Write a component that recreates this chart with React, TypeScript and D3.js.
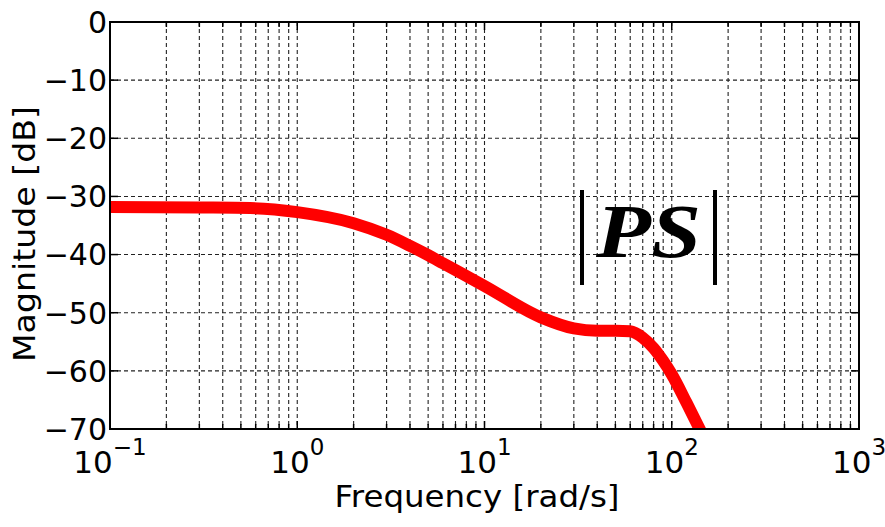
import React from "react";
import * as d3 from "d3";

const freq = [0.1, 0.3, 0.56, 1, 2, 3, 4, 5, 6, 10, 20, 30, 40, 50, 60, 70, 80, 90, 100, 120, 145];
const magDb = [-31.8, -31.9, -32.0, -32.7, -34.6, -36.6, -38.5, -40.1, -41.5, -45.4, -50.8, -52.7, -53.1, -53.1, -53.2, -54.3, -56.1, -58.3, -60.6, -65.5, -70.8];
const yTicks = [0, -10, -20, -30, -40, -50, -60, -70];
const xDecades = [-1, 0, 1, 2, 3];
const xLabel = "Frequency [rad/s]";
const yLabel = "Magnitude [dB]";

const W = 885, H = 527;
const L = 110, R = 859, T = 22, B = 429;

export default function App() {
  const x = d3.scaleLog().domain([0.1, 1000]).range([L, R]);
  const y = d3.scaleLinear().domain([-70, 0]).range([B, T]);
  const minors: number[] = [];
  for (let d = -1; d < 3; d++) for (let k = 2; k <= 9; k++) minors.push(k * Math.pow(10, d));
  const majors = xDecades.map((d) => Math.pow(10, d));
  const line = d3.line<number>().x((_, i) => x(freq[i])).y((v) => y(v)).curve(d3.curveMonotoneX);
  const font = "'DejaVu Sans', 'Liberation Sans', sans-serif";
  const grid = { stroke: "#222", strokeWidth: 1.1, strokeDasharray: "4,3" };
  return (
    <svg width={W} height={H} style={{ position: "absolute", left: 0, top: 0, background: "#fff" }}>
      <defs>
        <clipPath id="pa"><rect x={L} y={T} width={R - L} height={B - T} /></clipPath>
      </defs>
      {[...minors, ...majors.slice(1, -1)].map((v, i) => (
        <line key={"gx" + i} x1={x(v)} x2={x(v)} y1={T} y2={B} {...grid} />
      ))}
      {yTicks.slice(1, -1).map((v) => (
        <line key={"gy" + v} x1={L} x2={R} y1={y(v)} y2={y(v)} {...grid} />
      ))}
      {minors.map((v, i) => (
        <g key={"mt" + i} stroke="#000" strokeWidth={1.5}>
          <line x1={x(v)} x2={x(v)} y1={B} y2={B - 5} />
          <line x1={x(v)} x2={x(v)} y1={T} y2={T + 5} />
        </g>
      ))}
      {majors.map((v, i) => (
        <g key={"Mt" + i} stroke="#000" strokeWidth={1.5}>
          <line x1={x(v)} x2={x(v)} y1={B} y2={B - 8} />
          <line x1={x(v)} x2={x(v)} y1={T} y2={T + 8} />
        </g>
      ))}
      {yTicks.map((v) => (
        <g key={"yt" + v} stroke="#000" strokeWidth={1.5}>
          <line x1={L} x2={L + 8} y1={y(v)} y2={y(v)} />
          <line x1={R} x2={R - 8} y1={y(v)} y2={y(v)} />
        </g>
      ))}
      <path d={line(magDb) || ""} fill="none" stroke="#ff0000" strokeWidth={12} strokeLinejoin="round" clipPath="url(#pa)" />
      <rect x={L} y={T} width={R - L} height={B - T} fill="none" stroke="#000" strokeWidth={2} />
      {yTicks.map((v) => (
        <text key={"yl" + v} x={L - 3} y={y(v)} dy="0.36em" textAnchor="end" fontFamily={font} fontSize={30}>
          {v === 0 ? "0" : "\u2212" + Math.abs(v)}
        </text>
      ))}
      {xDecades.map((d) => (
        <text key={"xl" + d} x={x(Math.pow(10, d))} y={473} textAnchor="middle" fontFamily={font} fontSize={31}>
          10
          <tspan fontSize={23} dy={-18}>{d < 0 ? "\u2212" + Math.abs(d) : String(d)}</tspan>
        </text>
      ))}
      <text x={477} y={507} textAnchor="middle" fontFamily={font} fontSize={30} textLength={285} lengthAdjust="spacingAndGlyphs">{xLabel}</text>
      <text transform={`translate(35,234) rotate(-90)`} textAnchor="middle" fontFamily={font} fontSize={30} textLength={256} lengthAdjust="spacingAndGlyphs">{yLabel}</text>
      <line x1={582} x2={582} y1={190} y2={285} stroke="#000" strokeWidth={4} />
      <line x1={715} x2={715} y1={190} y2={285} stroke="#000" strokeWidth={4} />
      <text x={596} y={257} fontFamily="'Liberation Serif', 'Times New Roman', serif" fontStyle="italic" fontWeight="bold" fontSize={76} textLength={105} lengthAdjust="spacingAndGlyphs">PS</text>
    </svg>
  );
}
